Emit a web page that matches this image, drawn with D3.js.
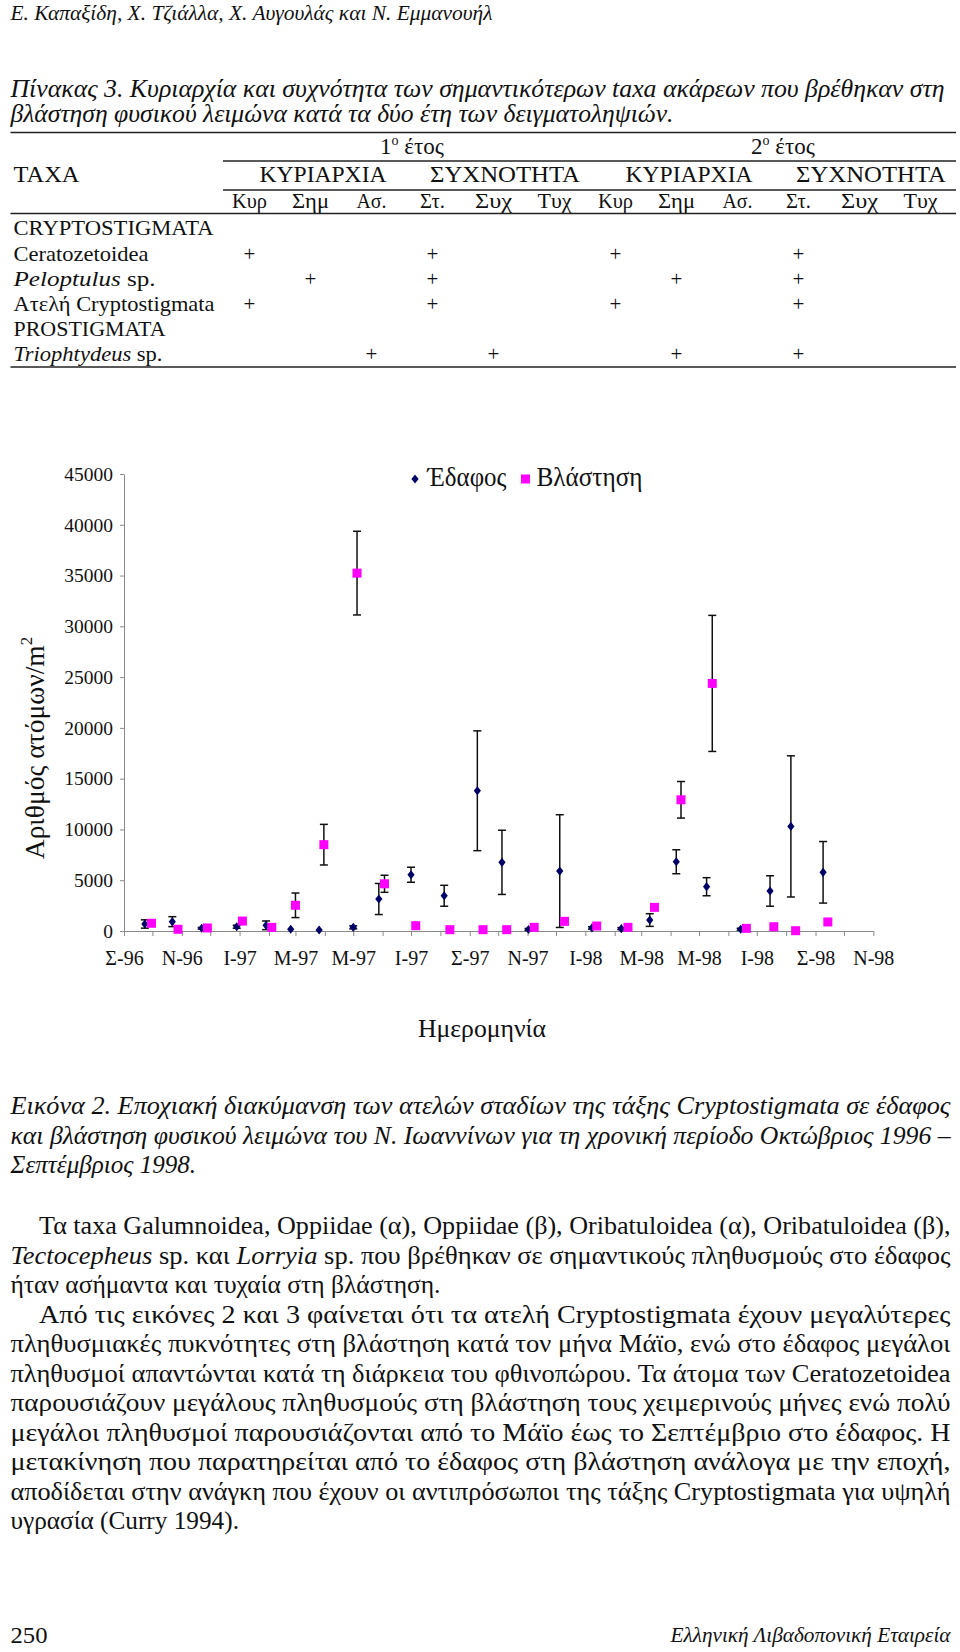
<!DOCTYPE html>
<html><head><meta charset="utf-8">
<script src="https://cdn.jsdelivr.net/npm/d3@7"></script>
<style>
body{margin:0;background:#fff}
svg{display:block;background:#fff}
text{font-family:"Liberation Serif","Times New Roman",serif;fill:#111}
</style>
</head><body>
<svg id="page" width="960" height="1652"></svg>
<script>
// ---------------- DATA ----------------
const headerText = "Ε. Καπαξίδη, Χ. Τζιάλλα, Χ. Αυγουλάς και Ν. Εμμανουήλ";
const tableCaption = [
  "Πίνακας 3. Κυριαρχία και συχνότητα των σημαντικότερων taxa ακάρεων που βρέθηκαν στη",
  "βλάστηση φυσικού λειμώνα κατά τα δύο έτη των δειγματοληψιών."
];
const yearLabels = ["1", "2"];
const groupLabels = ["ΚΥΡΙΑΡΧΙΑ", "ΣΥΧΝΟΤΗΤΑ", "ΚΥΡΙΑΡΧΙΑ", "ΣΥΧΝΟΤΗΤΑ"];
const subColumns = ["Κυρ","Σημ","Ασ.","Στ.","Συχ","Τυχ","Κυρ","Σημ","Ασ.","Στ.","Συχ","Τυχ"];
const taxaRows = [
  [{t:"CRYPTOSTIGMATA"}],
  [{t:"Ceratozetoidea"}],
  [{t:"Peloptulus", i:1},{t:" sp."}],
  [{t:"Ατελή Cryptostigmata"}],
  [{t:"PROSTIGMATA"}],
  [{t:"Triophtydeus", i:1},{t:" sp."}]
];
const plusMarks = [[], [0,3,6,9], [1,3,7,9], [0,3,6,9], [], [2,4,7,9]];

const legendLabels = ["Έδαφος", "Βλάστηση"];
const yTicks = [0,5000,10000,15000,20000,25000,30000,35000,40000,45000];
const xTickLabels = ["Σ-96","Ν-96","Ι-97","Μ-97","Μ-97","Ι-97","Σ-97","Ν-97","Ι-98","Μ-98","Μ-98","Ι-98","Σ-98","Ν-98"];
const xTitle = "Ημερομηνία";
const yTitle = "Αριθμός ατόμων/m";

// soil (Έδαφος)
const soilDates = ["1996-09-23","1996-10-22","1996-11-22","1996-12-29","1997-01-29","1997-02-24","1997-03-26","1997-05-01","1997-05-28","1997-07-01","1997-08-05","1997-09-09","1997-10-05","1997-11-02","1997-12-05","1998-01-08","1998-02-08","1998-03-10","1998-04-07","1998-05-09","1998-06-14","1998-07-15","1998-08-06","1998-09-09"];
const soilMeans = [690,920,270,420,560,170,100,360,3150,5540,3470,13810,6760,150,5900,300,230,1080,6820,4360,170,3940,10300,5780];
const soilErrors = [410,490,80,150,430,0,0,150,1530,740,1030,5900,3160,100,5550,120,100,625,1180,890,100,1500,6950,3030];
// vegetation (Βλάστηση)
const vegDates = ["1996-09-30","1996-10-28","1996-11-28","1997-01-04","1997-02-04","1997-03-01","1997-03-31","1997-05-05","1997-06-03","1997-07-06","1997-08-11","1997-09-15","1997-10-10","1997-11-08","1997-12-10","1998-01-13","1998-02-15","1998-03-15","1998-04-12","1998-05-15","1998-06-20","1998-07-19","1998-08-11","1998-09-14"];
const vegMeans = [760,170,300,980,360,2530,8500,35240,4650,520,130,130,130,360,950,490,360,2330,12920,24380,260,420,30,890];
const vegErrors = [0,0,0,0,0,1210,2000,4120,840,0,0,0,0,0,0,0,0,0,1800,6700,0,0,0,0];

const figCaption = [
  "Εικόνα 2. Εποχιακή διακύμανση των ατελών σταδίων της τάξης Cryptostigmata σε έδαφος",
  "και βλάστηση φυσικού λειμώνα του Ν. Ιωαννίνων για τη χρονική περίοδο Οκτώβριος 1996 –",
  "Σεπτέμβριος 1998."
];
const para1 = [
  [{t:"Τα taxa Galumnoidea, Oppiidae (α), Oppiidae (β), Oribatuloidea (α), Oribatuloidea (β),"}],
  [{t:"Tectocepheus", i:1},{t:" sp. και "},{t:"Lorryia", i:1},{t:" sp. που βρέθηκαν σε σημαντικούς πληθυσμούς στο έδαφος"}],
  [{t:"ήταν ασήμαντα και τυχαία στη βλάστηση."}]
];
const para2 = [
  "Από τις εικόνες 2 και 3 φαίνεται ότι τα ατελή Cryptostigmata έχουν μεγαλύτερες",
  "πληθυσμιακές πυκνότητες στη βλάστηση κατά τον μήνα Μάϊο, ενώ στο έδαφος μεγάλοι",
  "πληθυσμοί απαντώνται κατά τη διάρκεια του φθινοπώρου. Τα άτομα των Ceratozetoidea",
  "παρουσιάζουν μεγάλους πληθυσμούς στη βλάστηση τους χειμερινούς μήνες ενώ πολύ",
  "μεγάλοι πληθυσμοί παρουσιάζονται από το Μάϊο έως το Σεπτέμβριο στο έδαφος. Η",
  "μετακίνηση που παρατηρείται από το έδαφος στη βλάστηση ανάλογα με την εποχή,",
  "αποδίδεται στην ανάγκη που έχουν οι αντιπρόσωποι της τάξης Cryptostigmata για υψηλή",
  "υγρασία (Curry 1994)."
];
const footerLeft = "250";
const footerRight = "Ελληνική Λιβαδοπονική Εταιρεία";

// ---------------- DRAWING ----------------
const svg = d3.select("#page");
svg.append("rect").attr("width",960).attr("height",1652).attr("fill","#fff");

function line(g, x, yb, parts, opts = {}) {
  const t = g.append("text").attr("x", x).attr("y", yb)
    .style("font-size", (opts.size || 25) + "px");
  if (opts.italic) t.style("font-style", "italic");
  if (opts.anchor) t.attr("text-anchor", opts.anchor);
  (typeof parts === "string" ? [{t: parts}] : parts).forEach(p => {
    const s = t.append("tspan").text(p.t);
    if (p.i) s.style("font-style", "italic");
  });
  if (opts.w) t.attr("textLength", opts.w).attr("lengthAdjust", "spacingAndGlyphs");
  return t;
}

const L = 10.5, R = 950.5, FULLW = R - L;

// header
line(svg, L, 20, headerText, {italic:true, size:22, w:482});

// table caption
line(svg, L, 97, tableCaption[0], {italic:true, w:934});
line(svg, L, 121.5, tableCaption[1], {italic:true, w:663});

// table
const tbl = svg.append("g");
const rule = (x1, x2, yy) => tbl.append("line").attr("x1",x1).attr("x2",x2).attr("y1",yy).attr("y2",yy)
  .attr("stroke","#222").attr("stroke-width",1.3);
rule(L, 956, 132.5);
rule(223, 956, 161);
rule(223, 956, 190);
rule(L, 956, 213.5);
rule(L, 956, 367);

const colX = d3.scalePoint().domain(d3.range(subColumns.length)).range([249.5, 920.5]);
const yearX = [412, 783];
yearLabels.forEach((yl, i) => {
  const t = tbl.append("text").attr("x", yearX[i]).attr("y", 154).attr("text-anchor","middle").style("font-size","23px");
  t.append("tspan").text(yl);
  t.append("tspan").attr("dy", -9).style("font-size","14px").text("o");
  t.append("tspan").attr("dy", 9).text(" έτος");
});
const groupX = [323, 505, 689, 871];
const groupW = [127, 150, 127, 150];
groupLabels.forEach((gl, i) => {
  line(tbl, groupX[i] - groupW[i]/2, 182, gl, {size:23, w:groupW[i]});
});
line(tbl, 13.5, 182, "ΤΑΧΑ", {size:23, w:66});
const subW = [35, 37, 30, 25, 37, 34, 35, 37, 30, 25, 37, 34];
subColumns.forEach((s, i) => {
  line(tbl, colX(i) - subW[i]/2, 207.5, s, {size:22, w:subW[i]});
});
const rowY = [235, 261, 286, 311, 336, 361];
const rowW = [200, 135, 142, 201, 152, 149];
taxaRows.forEach((r, i) => {
  line(tbl, 13.5, rowY[i], r, {size:22, w:rowW[i]});
  plusMarks[i].forEach(c => line(tbl, colX(c), rowY[i], "+", {size:21, anchor:"middle"}));
});

// ---------------- CHART ----------------
const parse = d3.timeParse("%Y-%m-%d");
const x0 = parse("1996-09-01"), x1 = parse("1998-11-01");
const x = d3.scaleTime().domain([x0, x1]).range([124, 873.3]);
const y = d3.scaleLinear().domain([0, 45000]).range([931, 474]);
const chart = svg.append("g");
const axisColor = "#8a8a8a";

const yAxis = d3.axisLeft(y).tickValues(yTicks).tickSize(4).tickPadding(7).tickSizeOuter(0).tickFormat(d3.format("d"));
const yg = chart.append("g").attr("transform", `translate(${x.range()[0]},0)`).call(yAxis);
yg.attr("font-family", null).attr("font-size", null);
yg.selectAll("path.domain, .tick line").attr("stroke", axisColor);
yg.selectAll(".tick text").style("font-size", "19.5px").attr("fill", "#111");

const months = d3.timeMonth.range(x0, d3.timeDay.offset(x1, 1));
const xAxis = d3.axisBottom(x).tickValues(months).tickSize(5).tickSizeOuter(0).tickPadding(15)
  .tickFormat((d, i) => i % 2 === 0 ? xTickLabels[i / 2] : "");
const xg = chart.append("g").attr("transform", `translate(0,${y(0)})`).call(xAxis);
xg.attr("font-family", null).attr("font-size", null);
xg.selectAll("path.domain, .tick line").attr("stroke", axisColor);
xg.selectAll(".tick text").style("font-size", "20px").attr("fill", "#111");

function series(dates, means, errs) {
  return dates.map((d, i) => ({date: parse(d), m: means[i], e: errs[i]}));
}
const soil = series(soilDates, soilMeans, soilErrors);
const veg = series(vegDates, vegMeans, vegErrors);

function errorBars(data) {
  const g = chart.append("g").attr("stroke", "#111").attr("stroke-width", 1.5);
  data.filter(d => d.e > 0).forEach(d => {
    const cx = x(d.date), yt = y(d.m + d.e), yb = y(Math.max(0, d.m - d.e));
    g.append("line").attr("x1", cx).attr("x2", cx).attr("y1", yt).attr("y2", yb);
    g.append("line").attr("x1", cx - 4).attr("x2", cx + 4).attr("y1", yt).attr("y2", yt);
    g.append("line").attr("x1", cx - 4).attr("x2", cx + 4).attr("y1", yb).attr("y2", yb);
  });
}
errorBars(soil);
errorBars(veg);

const diamondPath = "M0,-4.6L3.6,0L0,4.6L-3.6,0Z";
const soilColor = "#000066", vegColor = "#ff00ff";
chart.append("g").selectAll("path").data(soil).join("path")
  .attr("d", diamondPath).attr("fill", soilColor)
  .attr("transform", d => `translate(${x(d.date)},${y(d.m)})`);
chart.append("g").selectAll("rect").data(veg).join("rect")
  .attr("x", d => x(d.date) - 4.5).attr("y", d => y(d.m) - 4.5)
  .attr("width", 9).attr("height", 9).attr("fill", vegColor);

// legend
const lg = chart.append("g");
lg.append("path").attr("d", diamondPath).attr("fill", soilColor).attr("transform", "translate(415,479)");
line(lg, 427.5, 486, legendLabels[0], {size:27, w:79});
lg.append("rect").attr("x", 521).attr("y", 474.5).attr("width", 9).attr("height", 9).attr("fill", vegColor);
line(lg, 536.5, 486, legendLabels[1], {size:27, w:106});

// axis titles
line(chart, 482, 1037, xTitle, {size:26, anchor:"middle", w:128});
const yt = chart.append("text").attr("transform", "translate(44,748) rotate(-90)")
  .attr("text-anchor", "middle").style("font-size", "27.5px");
yt.append("tspan").text(yTitle);
yt.append("tspan").attr("dy", -12).style("font-size", "17px").text("2");

// ---------------- TEXT BELOW ----------------
const body = svg.append("g");
line(body, L, 1114, figCaption[0], {italic:true, w:FULLW});
line(body, L, 1143.5, figCaption[1], {italic:true, w:FULLW});
line(body, L, 1173, figCaption[2], {italic:true, w:185.5});

line(body, 39, 1234, para1[0], {w:R - 39});
line(body, L, 1263.5, para1[1], {w:FULLW});
line(body, L, 1293, para1[2], {w:430});

const p2y0 = 1322.5, lh = 29.5;
para2.forEach((s, i) => {
  const xs = i === 0 ? 39 : L;
  const w = i === para2.length - 1 ? 228.5 : R - xs;
  line(body, xs, p2y0 + i * lh, s, {w});
});

line(body, L, 1643, footerLeft, {size:24, w:37});
line(body, R - 280, 1642, footerRight, {size:22, italic:true, w:280});
</script>
</body></html>
